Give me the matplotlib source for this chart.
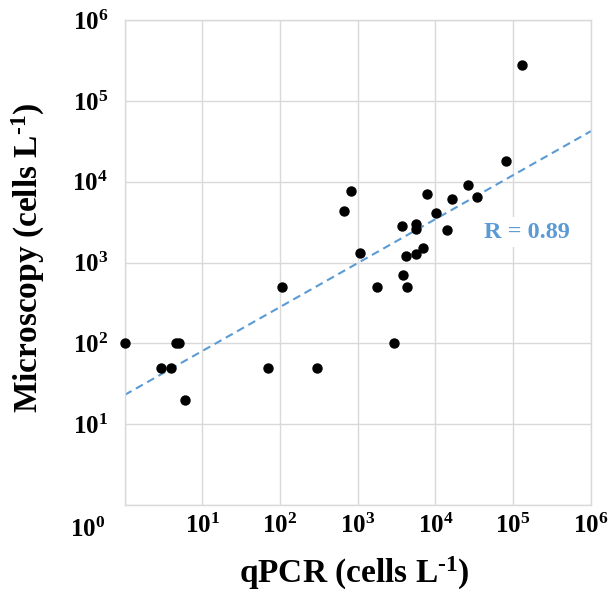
import numpy as np
import matplotlib
matplotlib.use("Agg")
import matplotlib.pyplot as plt
import matplotlib.transforms as mtransforms

plt.rcParams['font.family'] = ['Liberation Serif', 'DejaVu Serif']
plt.rcParams['font.weight'] = 'bold'
plt.rcParams['mathtext.fontset'] = 'custom'
plt.rcParams['mathtext.rm'] = 'Liberation Serif:bold'
plt.rcParams['mathtext.bf'] = 'Liberation Serif:bold'
plt.rcParams['mathtext.it'] = 'Liberation Serif:bold'

# qPCR vs microscopy counts (cells per litre)
qpcr = [1.3e5, 8.2e4, 2.6e4, 3.4e4, 1.65e4, 7.9e3, 1.02e4, 1.4e4,
        813, 660, 3.76e3, 5.6e3, 5.6e3, 1.08e3, 4.15e3, 5.6e3, 6.9e3,
        3.8e3, 1.75e3, 4.3e3, 106, 2.9e3,
        1.0, 4.6, 5.0, 2.9, 4.0, 6.0, 69, 297]
microscopy = [2.75e5, 1.8e4, 9.0e3, 6.5e3, 6.05e3, 7.0e3, 4.1e3, 2.5e3,
              7.6e3, 4.4e3, 2.8e3, 3.0e3, 2.6e3, 1.3e3, 1.22e3, 1.27e3, 1.5e3,
              700, 500, 500, 500, 100,
              100, 100, 100, 50, 50, 20, 50, 50]

# power trend line y = a * x^b
trend_a = 23.0
trend_b = 0.544
r_label = "R = 0.89"

decades = [0, 1, 2, 3, 4, 5, 6]
tick_vals = [10.0 ** d for d in decades]
tick_labels = [r"$10^{%d}$" % d for d in decades]

fig = plt.figure(figsize=(6.11, 5.92), dpi=100)
ax = fig.add_axes([0.204, 0.147, 0.763, 0.819])

ax.set_xscale('log')
ax.set_yscale('log')
ax.set_xlim(1, 1e6)
ax.set_ylim(1, 1e6)

grid_col = '#D9D9D9'
ax.set_axisbelow(True)
ax.grid(True, which='major', color=grid_col, linewidth=1.0)
ax.minorticks_off()
for sp in ax.spines.values():
    sp.set_color(grid_col)
    sp.set_linewidth(1.0)

xt = np.logspace(0, 6, 100)
ax.plot(xt, trend_a * xt ** trend_b, linestyle=(0, (3.8, 2.4)), color='#5B9BD5',
        linewidth=1.5, zorder=2)

ax.scatter(qpcr, microscopy, s=42, color='black', zorder=3, clip_on=False)

ax.set_xticks(tick_vals)
ax.set_xticklabels(tick_labels)
ax.set_yticks(tick_vals)
ax.set_yticklabels([''] + tick_labels[1:])
ax.tick_params(axis='both', length=0, labelsize=18)
ax.tick_params(axis='x', pad=6)
ax.tick_params(axis='y', pad=12)

# the lone 10^0 label sits further left in the original
lbl = ax.get_xticklabels()[0]
lbl.set_transform(lbl.get_transform() +
                  mtransforms.ScaledTranslation(-37 / 100, -4 / 100, fig.dpi_scale_trans))

ax.set_xlabel(r"qPCR (cells L$^{\text{-}1}$)", fontsize=24, fontweight='bold')
ax.set_ylabel(r"Microscopy (cells L$^{\text{-}1}$)", fontsize=24, fontweight='bold')
ax.xaxis.set_label_coords(0.492, -0.104)
ax.yaxis.set_label_coords(-0.167, 0.509)

ax.text(0.863, 0.563, r_label, transform=ax.transAxes, ha='center', va='center',
        fontsize=17.5, fontweight='bold', color='#5B9BD5',
        bbox=dict(facecolor='white', edgecolor='none', pad=3), zorder=4)

fig.savefig("out.png", dpi=100)
